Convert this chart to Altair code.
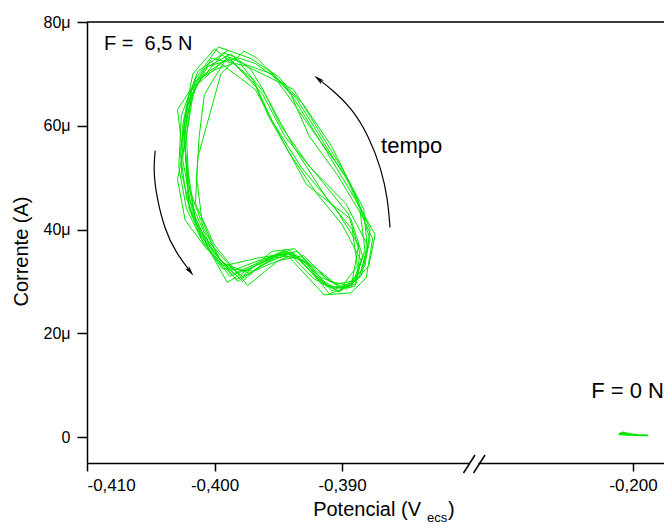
import altair as alt
import pandas as pd

# ---- data ----
# F = 6,5 N : repeated loops (potential in V, current in microampere)
loop_E = [
    -0.3990, -0.4013, -0.4026, -0.4028, -0.4022, -0.4010, -0.3993, -0.3966, -0.3942, -0.3922, -0.3902, -0.3885, -0.3878, -0.3888, -0.3908, -0.3930, -0.3950, -0.3972,
    -0.3997, -0.4015, -0.4022, -0.4020, -0.4008, -0.3995, -0.3978, -0.3955, -0.3937, -0.3918, -0.3900, -0.3888, -0.3892, -0.3912, -0.3938, -0.3960, -0.3980,
    -0.3987, -0.4008, -0.4029, -0.4025, -0.4029, -0.4023, -0.4007, -0.3983, -0.3960, -0.3942, -0.3914, -0.3893, -0.3881, -0.3876, -0.3884, -0.3903, -0.3926, -0.3940, -0.3953, -0.3967,
    -0.3977, -0.3995, -0.4000, -0.4013, -0.4015, -0.4000, -0.3974, -0.3950, -0.3930, -0.3910, -0.3890, -0.3884, -0.3893, -0.3928, -0.3968,
    -0.3995, -0.4018, -0.4024, -0.4020, -0.4015, -0.4002, -0.3985, -0.3962, -0.3945, -0.3925, -0.3908, -0.3890, -0.3882, -0.3886, -0.3898, -0.3918, -0.3938, -0.3975,
    -0.4002, -0.4020, -0.4027, -0.4022, -0.4010, -0.3993, -0.3972, -0.3952, -0.3935, -0.3920, -0.3900, -0.3885, -0.3880, -0.3897, -0.3925, -0.3948, -0.3962, -0.3972,
    -0.3983, -0.4005, -0.4018, -0.4023, -0.4021, -0.4014, -0.3997, -0.3978, -0.3958, -0.3938, -0.3916, -0.3896, -0.3879, -0.3874, -0.3890, -0.3912, -0.3932, -0.3945, -0.3968,
    -0.3993, -0.4014, -0.4025, -0.4026, -0.4018, -0.4004, -0.3988, -0.3968, -0.3948, -0.3930, -0.3912, -0.3893, -0.3885, -0.3900, -0.3920, -0.3942, -0.3958, -0.3970, -0.3985,
    -0.3998, -0.4016, -0.4024, -0.4022, -0.4020, -0.4009, -0.3994, -0.3970, -0.3952, -0.3936, -0.3919, -0.3903, -0.3887, -0.3880, -0.3883, -0.3896, -0.3920, -0.3940, -0.3955, -0.3978,
    -0.3988, -0.4010, -0.4021, -0.4025, -0.4019, -0.4005, -0.3985, -0.3963, -0.3941, -0.3923, -0.3906, -0.3889, -0.3886, -0.3895, -0.3918, -0.3945, -0.3962, -0.3990,
    -0.3992, -0.4008, -0.4012, -0.4014, -0.4010, -0.3998, -0.3982, -0.3960, -0.3940, -0.3920, -0.3905, -0.3892, -0.3887, -0.3905, -0.3932, -0.3955, -0.3968, -0.3985,
    -0.4000, -0.4017, -0.4025, -0.4021, -0.4016, -0.4003, -0.3990, -0.3972, -0.3946, -0.3928, -0.3910, -0.3895, -0.3882, -0.3878, -0.3892, -0.3915, -0.3935, -0.3958,
]
loop_I = [
    74.5, 70.5, 62.0, 52.0, 44.0, 38.0, 33.0, 34.5, 35.5, 30.5, 28.0, 31.0, 38.0, 46.0, 56.0, 64.0, 69.5, 73.0,
    75.2, 69.0, 58.0, 48.0, 40.0, 34.0, 31.0, 35.8, 36.3, 31.0, 29.0, 33.0, 40.0, 46.0, 56.0, 66.0, 72.0,
    73.9, 71.0, 63.1, 54.8, 49.6, 41.8, 36.5, 30.4, 33.0, 34.8, 27.4, 27.8, 30.7, 38.2, 42.5, 50.3, 58.1, 66.0, 69.6, 73.1,
    74.4, 70.0, 65.5, 54.0, 45.0, 37.0, 29.2, 34.0, 35.0, 30.0, 29.0, 35.0, 42.0, 48.7, 67.0,
    72.0, 67.0, 57.0, 50.0, 42.0, 36.0, 31.5, 34.0, 36.0, 33.0, 28.2, 30.0, 36.0, 44.0, 51.0, 59.0, 67.0, 71.5,
    73.0, 66.0, 55.0, 46.0, 38.5, 33.5, 31.5, 35.0, 35.8, 32.0, 28.5, 32.0, 37.0, 45.0, 52.0, 60.0, 67.0, 71.0,
    73.0, 71.5, 66.0, 56.0, 47.0, 41.0, 34.5, 30.0, 34.5, 35.5, 29.5, 28.5, 33.0, 39.0, 46.0, 55.0, 63.0, 68.0, 72.0,
    74.0, 68.0, 59.0, 51.0, 43.0, 36.0, 31.0, 33.0, 35.2, 34.0, 29.0, 28.8, 34.0, 41.0, 47.0, 55.0, 62.0, 69.0, 72.0,
    71.0, 68.5, 61.0, 52.0, 44.0, 37.5, 32.5, 32.0, 34.6, 35.0, 30.5, 28.0, 30.5, 36.0, 44.0, 50.0, 58.0, 65.0, 70.0, 72.0,
    73.2, 69.5, 64.0, 53.5, 45.5, 37.8, 32.2, 34.2, 36.0, 31.5, 28.7, 29.5, 35.5, 43.0, 50.0, 58.0, 66.0, 73.5,
    72.5, 66.0, 58.0, 50.0, 42.0, 35.0, 30.0, 33.5, 35.5, 32.5, 29.5, 30.0, 37.0, 44.0, 52.0, 61.0, 68.0, 72.0,
    74.8, 70.0, 60.0, 50.0, 43.0, 35.5, 29.8, 32.5, 35.8, 33.5, 27.6, 29.0, 33.0, 40.0, 48.0, 57.0, 65.0, 71.0,
]

# F = 0 N : tiny trace near -0,200 V
zero_E = [-0.2011, -0.2008, -0.2004, -0.2000, -0.1996, -0.1992, -0.1988, -0.1991, -0.1996, -0.2002, -0.2008, -0.2010, -0.2005, -0.1998, -0.1989]
zero_I = [0.6, 0.9, 0.7, 0.5, 0.4, 0.35, 0.3, 0.4, 0.45, 0.6, 0.8, 0.5, 0.4, 0.35, 0.3]

# curved "time" arrows
arrowL_E = [-0.40465, -0.40479, -0.40456, -0.40388, -0.40304, -0.40190]
arrowL_I = [55.2, 51.6, 46.4, 39.8, 35.6, 31.9]
arrowR_E = [-0.38624, -0.38640, -0.38690, -0.38791, -0.38925, -0.39060, -0.39185]
arrowR_I = [40.4, 45.7, 51.6, 58.1, 63.4, 66.6, 69.0]
head_E = [-0.40190, -0.39185]
head_I = [31.9, 69.0]
head_angle = [142, 308]

labels_txt = ["F =\u00a0 6,5 N", "tempo", "F = 0 N"]
labels_E = [-0.40867, -0.38694, -0.19757]
labels_I = [74.6, 54.8, 7.6]
labels_size = [20, 22, 22]
labels_align = ["left", "left", "right"]

x_ticks = [-0.410, -0.400, -0.390, -0.200]
y_ticks = [0, 20, 40, 60, 80]

# broken x axis: piecewise scale
x_domain = [-0.410, -0.37957, -0.21239, -0.19757]
W, H = 577, 441
x_range = [0, 388, 388, W]

FONT = "Liberation Sans"
GREEN = "#00e600"

loop_df = pd.DataFrame({"E": loop_E, "I": loop_I, "k": list(range(len(loop_E)))})
zero_df = pd.DataFrame({"E": zero_E, "I": zero_I, "k": list(range(len(zero_E)))})
arrL_df = pd.DataFrame({"E": arrowL_E, "I": arrowL_I, "k": list(range(len(arrowL_E)))})
arrR_df = pd.DataFrame({"E": arrowR_E, "I": arrowR_I, "k": list(range(len(arrowR_E)))})
head_df = pd.DataFrame({"E": head_E, "I": head_I, "a": head_angle})
lab_df = pd.DataFrame({"E": labels_E, "I": labels_I, "t": labels_txt, "s": labels_size, "al": labels_align})
one = pd.DataFrame({"z": [0]})

xscale = alt.Scale(domain=x_domain, range=x_range, nice=False, zero=False)
yscale = alt.Scale(domain=[-5, 80], nice=False, zero=False)

x_axis = alt.Axis(
    values=x_ticks,
    labelExpr="'-' + replace(format(-datum.value, '.3f'), '.', ',')",
    title=None, grid=False, tickSize=8, labelPadding=6,
    labelFont=FONT, labelFontSize=17, labelColor="black",
    domainColor="black", tickColor="black", domainWidth=1.5, tickWidth=1.5,
)
y_axis = alt.Axis(
    values=y_ticks,
    labelExpr="datum.value == 0 ? '0' : datum.value + 'μ'",
    title="Corrente (A)", titleFont=FONT, titleFontSize=20, titleFontWeight="normal",
    titleColor="black", titleX=-66, titleY=229, titleBaseline="middle", titleAngle=270,
    grid=False, tickSize=10, labelPadding=7,
    labelFont=FONT, labelFontSize=16, labelColor="black",
    domainColor="black", tickColor="black", domainWidth=1.5, tickWidth=1.5,
)

X = alt.X("E:Q", scale=xscale, axis=x_axis)
Y = alt.Y("I:Q", scale=yscale, axis=y_axis)

loop = alt.Chart(loop_df).mark_line(color=GREEN, strokeWidth=1).encode(x=X, y=Y, order="k:Q")
zero = alt.Chart(zero_df).mark_line(color=GREEN, strokeWidth=1.6).encode(x=X, y=Y, order="k:Q")
arrL = alt.Chart(arrL_df).mark_line(color="black", strokeWidth=1.2, interpolate="basis").encode(x=X, y=Y, order="k:Q")
arrR = alt.Chart(arrR_df).mark_line(color="black", strokeWidth=1.2, interpolate="basis").encode(x=X, y=Y, order="k:Q")
heads = alt.Chart(head_df).mark_point(
    shape="M0,-1L0.45,1L0,0.55L-0.45,1Z", filled=True, color="black", opacity=1, size=110
).encode(x=X, y=Y, angle=alt.Angle("a:Q", scale=None))
texts_l = alt.Chart(lab_df).transform_filter("datum.al == 'left'").mark_text(
    font=FONT, align="left", baseline="alphabetic", color="black"
).encode(x=X, y=Y, text="t:N", size=alt.Size("s:Q", scale=None))
texts_r = alt.Chart(lab_df).transform_filter("datum.al == 'right'").mark_text(
    font=FONT, align="right", baseline="alphabetic", color="black"
).encode(x=X, y=Y, text="t:N", size=alt.Size("s:Q", scale=None))

# decorations: top frame line, axis break marks, x-axis title with subscript
top_line = alt.Chart(one).mark_rule(color="black", strokeWidth=1.5).encode(
    x=alt.value(0), x2=alt.value(W), y=alt.value(0))
gap = alt.Chart(one).mark_rect(color="white").encode(
    x=alt.value(382.5), x2=alt.value(391.5), y=alt.value(438), y2=alt.value(444))
slash1 = alt.Chart(one).mark_rule(color="black", strokeWidth=1.5).encode(
    x=alt.value(376.5), x2=alt.value(388), y=alt.value(451), y2=alt.value(433))
slash2 = alt.Chart(one).mark_rule(color="black", strokeWidth=1.5).encode(
    x=alt.value(386.5), x2=alt.value(398), y=alt.value(451), y2=alt.value(433))
xt1 = alt.Chart(one).mark_text(font=FONT, fontSize=20, align="right", baseline="alphabetic", color="black", text="Potencial (V").encode(
    x=alt.value(334), y=alt.value(494))
xt2 = alt.Chart(one).mark_text(font=FONT, fontSize=13, align="left", baseline="alphabetic", color="black", text="ecs").encode(
    x=alt.value(340), y=alt.value(500))
xt3 = alt.Chart(one).mark_text(font=FONT, fontSize=20, align="left", baseline="alphabetic", color="black", text=")").encode(
    x=alt.value(361), y=alt.value(494))

chart = alt.layer(
    loop, zero, arrL, arrR, heads, texts_l, texts_r, top_line, gap, slash1, slash2, xt1, xt2, xt3
).properties(
    width=W, height=H,
    autosize=alt.AutoSizeParams(type="none"),
    padding={"left": 79, "top": 14, "right": 0, "bottom": 61},
).configure_view(stroke=None).configure(background="white")

chart.save("out.html", embed_options={"renderer": "svg", "actions": False})
